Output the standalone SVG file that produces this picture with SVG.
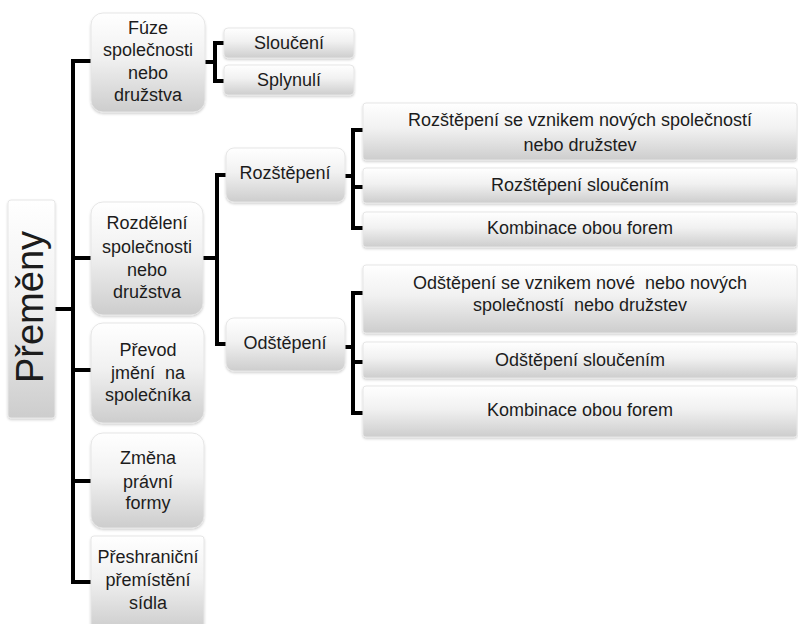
<svg xmlns="http://www.w3.org/2000/svg" width="798" height="624" viewBox="0 0 798 624">
  <style>
    text { font-family: "Liberation Sans", Arial, sans-serif; font-size: 18px; fill: #1c1c1c; text-anchor: middle; white-space: pre; }
    .box { fill: url(#bevel); stroke: #e6e6e6; stroke-width: 1; filter: url(#shadow); }
    .root-label { font-size: 38px; }
    .wire { fill: none; stroke: #000; stroke-width: 4; stroke-linejoin: miter; stroke-linecap: butt; }
  </style>
  <defs>
    <linearGradient id="bevel" x1="0" y1="0" x2="0" y2="1">
      <stop offset="0" stop-color="#ffffff"/>
      <stop offset="0.45" stop-color="#f1f1f1"/>
      <stop offset="1" stop-color="#cdcdcd"/>
    </linearGradient>
    <filter id="shadow" x="-10%" y="-10%" width="120%" height="130%">
      <feDropShadow dx="0" dy="1.5" stdDeviation="1.2" flood-color="#000" flood-opacity="0.18"/>
    </filter>
  </defs>
  <rect width="798" height="624" fill="#ffffff"/>

  <!-- connectors -->
  <g id="connectors">
    <path class="wire" d="M55,309 H73"/>
    <path class="wire" d="M91,61 H73 V582 H91 M73,258 H91 M73,370 H91 M73,481 H91"/>
    <path class="wire" d="M204,62 H215 M224,43 H215 V81 H224"/>
    <path class="wire" d="M203,258 H217 M226,175 H217 V344 H226"/>
    <path class="wire" d="M345,176 H353 M363,130 H353 V228 H363 M353,187 H363"/>
    <path class="wire" d="M345,347 H353 M363,293 H353 V413 H363 M353,362 H363"/>
  </g>

  <!-- root -->
  <g id="premeny">
    <rect class="box" x="8" y="200" width="47" height="218" rx="3"/>
    <text class="root-label" transform="translate(43,307) rotate(-90)">Přeměny</text>
  </g>

  <!-- first level -->
  <g id="fuze">
    <rect class="box" x="91" y="13" width="114" height="99" rx="12"/>
    <text x="148" y="34">Fúze</text>
    <text x="148" y="56">společnosti</text>
    <text x="148" y="79">nebo</text>
    <text x="148" y="101">družstva</text>
  </g>
  <g id="rozdeleni">
    <rect class="box" x="91" y="202" width="112" height="113" rx="12"/>
    <text x="147" y="229">Rozdělení</text>
    <text x="147" y="253">společnosti</text>
    <text x="147" y="276">nebo</text>
    <text x="147" y="298">družstva</text>
  </g>
  <g id="prevod">
    <rect class="box" x="91" y="323" width="113" height="100" rx="12"/>
    <text x="148" y="356">Převod</text>
    <text x="148" y="379">jmění  na</text>
    <text x="148" y="401">společníka</text>
  </g>
  <g id="zmena">
    <rect class="box" x="91" y="433" width="113" height="95" rx="12"/>
    <text x="148" y="464">Změna</text>
    <text x="148" y="488">právní</text>
    <text x="148" y="509">formy</text>
  </g>
  <g id="preshranicni">
    <rect class="box" x="91" y="536" width="113" height="94" rx="3"/>
    <text x="148" y="563">Přeshraniční</text>
    <text x="148" y="586">přemístění</text>
    <text x="148" y="609">sídla</text>
  </g>

  <!-- second level -->
  <g id="slouceni">
    <rect class="box" x="224" y="28" width="130" height="30" rx="4"/>
    <text x="289" y="49">Sloučení</text>
  </g>
  <g id="splynuti">
    <rect class="box" x="224" y="65" width="130" height="30" rx="4"/>
    <text x="289" y="86">Splynulí</text>
  </g>
  <g id="rozstepeni">
    <rect class="box" x="226" y="148" width="119" height="54" rx="8"/>
    <text x="285" y="179">Rozštěpení</text>
  </g>
  <g id="odstepeni">
    <rect class="box" x="226" y="318" width="119" height="53" rx="8"/>
    <text x="285" y="349">Odštěpení</text>
  </g>

  <!-- third level: Rozštěpení -->
  <g id="rozstepeni-vznik">
    <rect class="box" x="363" y="103" width="434" height="57" rx="3"/>
    <text x="580" y="126">Rozštěpení se vznikem nových společností</text>
    <text x="580" y="151">nebo družstev</text>
  </g>
  <g id="rozstepeni-slouceni">
    <rect class="box" x="363" y="168" width="434" height="35" rx="3"/>
    <text x="580" y="191">Rozštěpení sloučením</text>
  </g>
  <g id="rozstepeni-kombinace">
    <rect class="box" x="363" y="212" width="434" height="35" rx="3"/>
    <text x="580" y="234">Kombinace obou forem</text>
  </g>

  <!-- third level: Odštěpení -->
  <g id="odstepeni-vznik">
    <rect class="box" x="363" y="265" width="434" height="68" rx="3"/>
    <text x="580" y="289">Odštěpení se vznikem nové  nebo nových</text>
    <text x="580" y="311">společností  nebo družstev</text>
  </g>
  <g id="odstepeni-slouceni">
    <rect class="box" x="363" y="342" width="434" height="36" rx="3"/>
    <text x="580" y="366">Odštěpení sloučením</text>
  </g>
  <g id="odstepeni-kombinace">
    <rect class="box" x="363" y="386" width="434" height="51" rx="3"/>
    <text x="580" y="416">Kombinace obou forem</text>
  </g>
</svg>
